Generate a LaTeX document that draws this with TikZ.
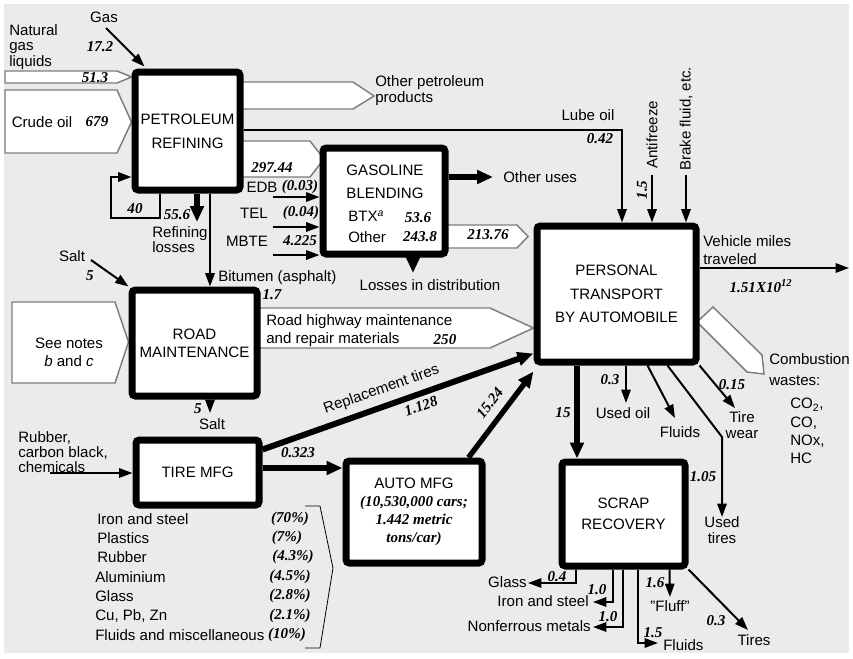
\documentclass[tikz,border=0pt]{standalone}
\usepackage{fontspec}
\setmainfont{Liberation Sans}
\newfontfamily\numfont{Liberation Serif}
\usetikzlibrary{arrows.meta,positioning,calc}
\pgfdeclarelayer{background}
\pgfsetlayers{background,main}
\definecolor{panelgray}{RGB}{235,235,235}
\definecolor{flowedge}{RGB}{125,125,125}
\newcommand\setfs[1]{\fontsize{11.3pt}{#1}\selectfont}

\tikzset{
  procbox/.style={draw, line width=5.25pt, rounded corners=2.5pt, fill=white, align=center, inner sep=0pt},
  flow/.style={draw=flowedge, line width=1.1pt, fill=white},
  arr/.style={line width=1.5pt, -{Triangle[length=10pt,width=7pt]}},
  fatarr/.style={line width=4pt, -{Triangle[length=12pt,width=10pt]}},
  lbl/.style={inner sep=0pt, align=center},
  num/.style={inner sep=0pt, font=\setfs{13pt}\numfont\bfseries\itshape},
}

\begin{document}
\begin{tikzpicture}[x=0.75pt, y=-0.75pt, font=\setfs{13pt}]
  \useasboundingbox (0,0) rectangle (853,658);

  % process boxes
  \node[procbox, minimum width=78.75pt, minimum height=88.5pt, font=\setfs{18pt}] (refin) at (187.5,131) {PETROLEUM\\REFINING};
  \node[procbox, minimum width=91.5pt, minimum height=79.5pt] (gasol) at (384,201) {};
  \node[procbox, minimum width=119.25pt, minimum height=102pt, font=\setfs{17.6pt}] (trans) at (616.5,294) {PERSONAL\\TRANSPORT\\BY AUTOMOBILE};
  \node[procbox, minimum width=93.75pt, minimum height=79.5pt, font=\setfs{13.5pt}] (road) at (194.5,343) {ROAD\\MAINTENANCE};
  \node[procbox, minimum width=92.25pt, minimum height=48.75pt] (tire) at (197.5,472.5) {TIRE MFG};
  \node[procbox, minimum width=102pt, minimum height=76.5pt, font=\setfs{13.5pt}] (auto) at (414,512) {AUTO MFG\\{\numfont\bfseries\itshape (10,530,000 cars;}\\{\numfont\bfseries\itshape 1.442 metric}\\{\numfont\bfseries\itshape tons/car)}};
  \node[procbox, minimum width=92.25pt, minimum height=78pt, font=\setfs{15.75pt}] (scrap) at (623.5,514) {SCRAP\\RECOVERY};

  % text inside the blending box
  \node[lbl, font=\setfs{17pt}] (gasname) at (385,181.5) {GASOLINE\\BLENDING};
  \node[lbl, anchor=west] (btx) at (348,216) {BTX\textsuperscript{\itshape a}};
  \node[num] (btxval) at (418,218) {53.6};
  \node[lbl, anchor=west] (othr) at (348,237) {Other};
  \node[num] (othrval) at (420,237) {243.8};

  % flows drawn as open arrows
  \begin{pgfonlayer}{background}
    \fill[panelgray] (4,4) rectangle (849,653);
    \draw[flow] (5,71) -- (117,71) -- (refin.west |- 0,77) -- (117,83) -- (5,83) -- cycle;
    \draw[flow] (5,90) -- (117,90) -- (refin.west |- 0,122) -- (117,153) -- (5,153) -- cycle;
    \draw[flow] (refin.center |- 0,82) -- (353,82) -- (374,96) -- (353,109) -- (refin.center |- 0,109) -- cycle;
    \draw[flow] (refin.center |- 0,141) -- (310,141) -- (324,159) -- (310,177) -- (refin.center |- 0,177) -- cycle;
    \draw[flow] (gasol.center |- 0,225) -- (517,225) -- (528,236.5) -- (517,248) -- (gasol.center |- 0,248) -- cycle;
    \draw[flow] (12,302) -- (115,302) -- (road.west |- 0,342) -- (115,383) -- (12,383) -- cycle;
    \draw[flow] (road.center |- 0,308) -- (490,308) -- (trans.west |- 0,328) -- (490,348) -- (road.center |- 0,348) -- cycle;
    \draw[flow] (713,307) -- (762,355) -- (764,374) -- (747,372) -- (697,322) -- cycle;
  \end{pgfonlayer}

  % refining inputs and outputs
  \node[lbl, align=left, font=\setfs{11.6pt}, anchor=west] (ngl) at (9,47) {Natural\\gas\\liquids};
  \node[lbl] (gaslbl) at (104,17) {Gas};
  \node[num] (gasval) at (100,47) {17.2};
  \node[num] (nglval) at (95,78) {51.3};
  \node[lbl] (crude) at (42,122) {Crude oil};
  \node[num] (crudeval) at (97,122) {679};
  \node[lbl, align=left, font=\setfs{12pt}, anchor=west] (othprod) at (375,91) {Other petroleum\\products};
  \coordinate (gasstart) at (106,28);
  \draw[arr] (gasstart) -- ($(refin.north west)+(13,-2)$);

  \coordinate (loopa) at (160,218);
  \coordinate (loopb) at (111,177);
  \draw[arr] (refin.south -| loopa) -- (loopa) -| (loopb) -- (refin.west |- loopb);
  \node[num] (loopval) at (135,209) {40};

  \coordinate (rlossend) at (197,222);
  \draw[fatarr] (refin.south -| rlossend) -- (rlossend);
  \node[num] (rlossval) at (177,215) {55.6};
  \node[lbl, align=left, font=\setfs{11.3pt}, anchor=west] (rloss) at (152,240) {Refining\\losses};

  \coordinate (bitx) at (210,250);
  \draw[arr] (refin.south -| bitx) -- (road.north -| bitx);
  \node[lbl, anchor=west] (bitum) at (218,278) {Bitumen (asphalt)};
  \node[num] (bitval) at (272,295) {1.7};

  \node[num] (feedval) at (272,168) {297.44};

  % lube oil and other inputs to the car
  \coordinate (lubecorner) at (622,130);
  \draw[arr] (refin.east |- lubecorner) -| (trans.north -| lubecorner);
  \node[lbl] (lube) at (588,115) {Lube oil};
  \node[num] (lubeval) at (600,139) {0.42};

  \coordinate (antitop) at (652,175);
  \draw[arr] (antitop) -- (trans.north -| antitop);
  \node[lbl, rotate=90, anchor=west] (anti) at (652,169) {Antifreeze};
  \node[num, rotate=90] (antival) at (642,190) {1.5};

  \coordinate (braketop) at (686,175);
  \draw[arr] (braketop) -- (trans.north -| braketop);
  \node[lbl, rotate=90, anchor=west] (brake) at (686,171) {Brake fluid, etc.};

  \coordinate (vmtend) at (849,268);
  \draw[arr] (trans.east |- vmtend) -- (vmtend);
  \node[lbl, align=left, font=\setfs{13.5pt}, anchor=west] (vmt) at (703,250) {Vehicle miles\\traveled};
  \node[num] (vmtval) at (761,286) {1.51X10\textsuperscript{12}};

  % blending inputs and outputs
  \coordinate (edbstart) at (273,197);
  \coordinate (telstart) at (273,227);
  \coordinate (mbtestart) at (273,255);
  \draw[arr] (edbstart) -- (gasol.west |- edbstart);
  \draw[arr] (telstart) -- (gasol.west |- telstart);
  \draw[arr] (mbtestart) -- (gasol.west |- mbtestart);
  \node[lbl] (edb) at (262,187) {EDB};
  \node[num] (edbval) at (300,187) {(0.03)};
  \node[lbl] (tel) at (254,213) {TEL};
  \node[num] (telval) at (301,213) {(0.04)};
  \node[lbl] (mbte) at (247,241) {MBTE};
  \node[num] (mbteval) at (300,241) {4.225};

  \coordinate (usesend) at (493,177);
  \draw[fatarr] (gasol.east |- usesend) -- (usesend);
  \node[lbl, anchor=west] (uses) at (503,177) {Other uses};
  \node[num] (gasoutval) at (488,235) {213.76};
  \coordinate (distend) at (413,273);
  \draw[fatarr] (gasol.south -| distend) -- (distend);
  \node[lbl] (distloss) at (430,285) {Losses in distribution};

  % road maintenance
  \coordinate (saltstart) at (91,260);
  \draw[arr] (saltstart) -- (road.north west);
  \node[lbl] (saltlbl) at (72,256) {Salt};
  \node[num] (saltinval) at (90,276) {5};
  \node[lbl, font=\setfs{13.5pt}] (notes) at (69,352) {See notes\\\textit{b} and \textit{c}};
  \node[lbl, align=left, font=\setfs{13.5pt}, anchor=west] (rhm) at (266,331) {Road highway maintenance\\and repair materials};
  \node[num] (rhmval) at (445,340) {250};
  \coordinate (saltend) at (210,413);
  \draw[arr] (road.south -| saltend) -- (saltend);
  \node[num] (saltoutval) at (198,409) {5};
  \node[lbl] (saltout) at (212,424) {Salt};

  % tire and auto manufacturing
  \coordinate (rubstart) at (50,473);
  \draw[arr] (rubstart) -- (tire.west |- rubstart);
  \node[lbl, align=left, font=\setfs{11pt}, anchor=west] (rubber) at (18,452) {Rubber,\\carbon black,\\chemicals};
  \coordinate (tirey) at (300,468);
  \draw[fatarr] (tire.east |- tirey) -- (auto.west |- tirey);
  \node[num] (tireval) at (298,453) {0.323};
  \draw[fatarr, line width=4.5pt] ([yshift=-9.75pt]tire.north east) -- ([yshift=9pt]trans.south west)
    node[lbl, pos=0.46, above=5pt, sloped] (repl) {Replacement tires}
    node[num, pos=0.57, below=3pt, sloped] (replval) {1.128};
  \draw[fatarr] ($(auto.north east)+(-17,0)$) -- ($(trans.south west)+(0,6)$)
    node[num, pos=0.52, above=6pt, sloped] (autoval) {15.24};

  % material list of a car
  \node[lbl, anchor=west] (mat1) at (97,519) {Iron and steel};
  \node[num] (pct1) at (290,519) {(70\%)};
  \node[lbl, anchor=west] (mat2) at (97,538) {Plastics};
  \node[num] (pct2) at (287,538) {(7\%)};
  \node[lbl, anchor=west] (mat3) at (97,557) {Rubber};
  \node[num] (pct3) at (293,557) {(4.3\%)};
  \node[lbl, anchor=west] (mat4) at (95,577) {Aluminium};
  \node[num] (pct4) at (290,577) {(4.5\%)};
  \node[lbl, anchor=west] (mat5) at (95,596) {Glass};
  \node[num] (pct5) at (290,596) {(2.8\%)};
  \node[lbl, anchor=west] (mat6) at (95,616) {Cu, Pb, Zn};
  \node[num] (pct6) at (290,616) {(2.1\%)};
  \node[lbl, anchor=west] (mat7) at (95,635) {Fluids and miscellaneous};
  \node[num] (pct7) at (287,635) {(10\%)};
  \draw[line width=0.6pt] (305,506) -- (320,506) -- (333,568) -- (320,648) -- (305,648);

  % outputs of personal transport
  \coordinate (fifteenx) at (577,400);
  \draw[fatarr] (trans.south -| fifteenx) -- (scrap.north -| fifteenx);
  \node[num] (fifteenval) at (563,413) {15};
  \coordinate (oilend) at (626,403);
  \draw[arr] (trans.south -| oilend) -- (oilend);
  \node[num] (oilval) at (610,380) {0.3};
  \node[lbl] (usedoil) at (623,413) {Used oil};
  \coordinate (fluidend) at (675,418);
  \draw[arr] ($(trans.south west)+(114,0)$) -- (fluidend);
  \node[lbl] (fluids) at (680,432) {Fluids};
  \coordinate (tirebend) at (722,437);
  \coordinate (usedtireend) at (722,517);
  \draw[arr] ($(trans.south west)+(134,0)$) -- (tirebend) -- (usedtireend);
  \node[num] (usedtireval) at (703,477) {1.05};
  \node[lbl, font=\setfs{11.5pt}] (usedtire) at (722,530) {Used\\tires};
  \coordinate (wearend) at (735,408);
  \draw[arr] (trans.south east) -- (wearend);
  \node[num] (wearval) at (732,385) {0.15};
  \node[lbl, font=\setfs{11.5pt}] (wear) at (742,425) {Tire\\wear};
  \node[lbl, align=left, font=\setfs{15.75pt}, anchor=west] (comb) at (769,370) {Combustion\\wastes:};
  \node[lbl, align=left, font=\setfs{13.7pt}, anchor=west] (gases) at (790,431) {CO\textsubscript{2},\\CO,\\NOx,\\HC};

  % outputs of scrap recovery
  \coordinate (glassend) at (528,583);
  \draw[arr] ($(scrap.south west)+(17,0)$) |- (glassend);
  \node[lbl, anchor=east] (glass) at (527,582) {Glass};
  \node[num] (glassval) at (557,577) {0.4};
  \coordinate (ironend) at (593,602);
  \draw[arr] ($(scrap.south west)+(54,0)$) |- (ironend);
  \node[lbl, anchor=east] (iron) at (589,601) {Iron and steel};
  \node[num] (ironval) at (597,590) {1.0};
  \coordinate (nonfend) at (593,627);
  \draw[arr] ($(scrap.south west)+(64,0)$) |- (nonfend);
  \node[lbl, anchor=east] (nonf) at (591,626) {Nonferrous metals};
  \node[num] (nonfval) at (608,617) {1.0};
  \coordinate (sfluidend) at (658,643);
  \draw[arr] ($(scrap.south west)+(79,0)$) |- (sfluidend);
  \node[lbl, anchor=west] (sfluid) at (663,645) {Fluids};
  \node[num] (sfluidval) at (653,633) {1.5};
  \coordinate (fluffend) at (670,597);
  \draw[arr] ($(scrap.south west)+(111,0)$) -- (fluffend);
  \node[lbl] (fluff) at (670,606) {"Fluff"};
  \node[num] (fluffval) at (655,583) {1.6};
  \coordinate (tiresend) at (748,630);
  \draw[arr] (scrap.south east) -- (tiresend);
  \node[lbl] (tires) at (754,640) {Tires};
  \node[num] (tiresval) at (716,621) {0.3};
\end{tikzpicture}
\end{document}
